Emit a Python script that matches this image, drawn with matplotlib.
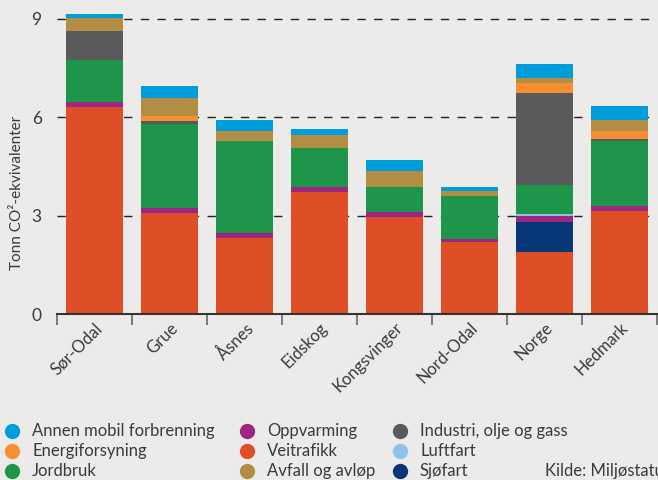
import numpy as np
import matplotlib.pyplot as plt
from matplotlib.lines import Line2D

# kategorier og verdier (tonn CO2-ekvivalenter per innbygger)
steder = ["Sør-Odal", "Grue", "Åsnes", "Eidskog", "Kongsvinger", "Nord-Odal", "Norge", "Hedmark"]

veitrafikk = [6.32, 3.09, 2.33, 3.73, 2.96, 2.20, 1.90, 3.14]
sjofart    = [0.00, 0.00, 0.00, 0.00, 0.00, 0.00, 0.92, 0.00]
oppvarming = [0.15, 0.15, 0.15, 0.14, 0.15, 0.09, 0.17, 0.15]
luftfart   = [0.00, 0.00, 0.00, 0.00, 0.00, 0.00, 0.07, 0.00]
jordbruk   = [1.27, 2.56, 2.79, 1.20, 0.76, 1.31, 0.87, 1.98]
industri   = [0.88, 0.10, 0.00, 0.00, 0.00, 0.00, 2.80, 0.06]
energi     = [0.00, 0.13, 0.00, 0.00, 0.00, 0.00, 0.30, 0.24]
avfall     = [0.41, 0.55, 0.30, 0.39, 0.49, 0.15, 0.18, 0.35]
annen      = [0.11, 0.38, 0.34, 0.18, 0.33, 0.12, 0.40, 0.42]

# stablerekkefolge nedenfra
serier = [
	("Veitrafikk", veitrafikk, "#DE4F28"),
	("Sjøfart", sjofart, "#063878"),
	("Oppvarming", oppvarming, "#9B2783"),
	("Luftfart", luftfart, "#8EC4EA"),
	("Jordbruk", jordbruk, "#1E9649"),
	("Industri, olje og gass", industri, "#5A5A5C"),
	("Energiforsyning", energi, "#F68F31"),
	("Avfall og avløp", avfall, "#B38D43"),
	("Annen mobil forbrenning", annen, "#009DDB"),
]
# legenden, kolonne for kolonne
legende_kolonner = [
	["Annen mobil forbrenning", "Energiforsyning", "Jordbruk"],
	["Oppvarming", "Veitrafikk", "Avfall og avløp"],
	["Industri, olje og gass", "Luftfart", "Sjøfart"],
]

bg = "#ECEBE9"
tekst = "#3A3A3A"
plt.rcParams['font.family'] = ['Lato', 'DejaVu Sans']

W, H = 658, 480
fig = plt.figure(figsize=(W/100, H/100), dpi=100, facecolor=bg)
ax = fig.add_axes([57/W, 1-314.3/H, 600/W, 312/H], facecolor=bg)

x = np.arange(len(steder))
bunn = np.zeros(len(steder))
farger = {}
for navn, verdier, farge in serier:
	v = np.array(verdier)
	ax.bar(x, v, 0.76, bottom=bunn, color=farge, linewidth=0)
	bunn += v
	farger[navn] = farge

ax.set_xlim(-0.5, 7.5)
ax.set_ylim(0, 9.5)
ax.set_yticks([0, 3, 6, 9])
ax.yaxis.grid(True, color="#222222", linestyle=(0, (6, 6)), linewidth=1.0)
ax.set_axisbelow(True)
ax.tick_params(axis='y', length=0, pad=11, labelsize=12.5, labelcolor=tekst)

ax.set_xticks(x)
ax.set_xticklabels(steder, rotation=45, ha='right', rotation_mode='anchor',
	fontsize=12, color=tekst)
ax.tick_params(axis='x', which='major', length=0, pad=4)
ax.set_xticks(np.arange(-0.5, 8.0, 1.0), minor=True)
ax.tick_params(axis='x', which='minor', length=8, width=1.2, color="#666666")

for s in ["top", "right", "left"]:
	ax.spines[s].set_visible(False)
ax.spines["bottom"].set_color("#333333")
ax.spines["bottom"].set_linewidth(1.5)

ax.set_ylabel("Tonn CO²-ekvivalenter", fontsize=11, color=tekst)
ax.yaxis.set_label_coords(-0.055, 0.39)

# legende tegnet for hand i figurkoordinater (piksler)
kol_x = [12, 247, 400]
rad_y = [431, 451, 471]
for kx, kolonne in zip(kol_x, legende_kolonner):
	for ry, navn in zip(rad_y, kolonne):
		fig.add_artist(Line2D([kx/W], [1-ry/H], marker='o', markersize=11,
			markerfacecolor=farger[navn], markeredgecolor='none',
			transform=fig.transFigure))
		fig.text((kx+20)/W, 1-ry/H, navn, fontsize=12, color=tekst,
			va='center', ha='left')

fig.text(545/W, 1-471/H, "Kilde: Miljøstatus", fontsize=12, color=tekst,
	va='center', ha='left')

fig.savefig("out.png", dpi=100, facecolor=bg)
